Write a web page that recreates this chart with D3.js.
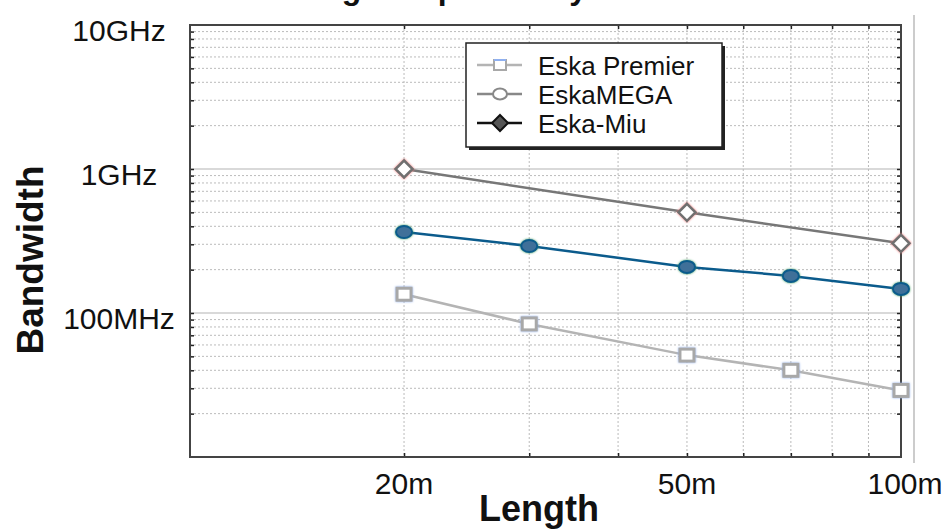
<!DOCTYPE html>
<html><head><meta charset="utf-8">
<script src="https://cdn.jsdelivr.net/npm/d3@7"></script>
<style>body{margin:0;background:#fff}svg{display:block}</style>
</head><body>
<svg id="c" width="948" height="529"></svg>
<script>
const lengths = [20, 30, 50, 70, 100];
const premier = [135, 84, 51, 40, 29];
const mega = [365, 292, 209, 181, 147];
const miuLengths = [20, 50, 100];
const miu = [1000, 500, 305];
const xTickVals = [20, 50, 100];
const xTickLabels = ["20m", "50m", "100m"];
const yTickVals = [10000, 1000, 100];
const yTickLabels = ["10GHz", "1GHz", "100MHz"];
const seriesNames = ["Eska Premier", "EskaMEGA", "Eska-Miu"];

const svg = d3.select("#c");
const L = 190, R = 901, T = 25, B = 457;
const x = d3.scaleLog().domain([10, 100]).range([L, R]);
const y = d3.scaleLog().domain([10, 10000]).range([B, T]);
const font = "'Liberation Sans', Arial, sans-serif";

const xMinor = d3.range(20, 100, 10);
const yMinor = [];
[10, 100, 1000].forEach(d => { for (let k = 2; k <= 9; k++) yMinor.push(d * k); });
const yMajor = [100, 1000];

const g = svg.append("g");
g.selectAll(".hm").data(yMinor).join("line")
  .attr("x1", L).attr("x2", R).attr("y1", d => y(d)).attr("y2", d => y(d))
  .attr("stroke", "#bbb").attr("stroke-width", 1).attr("stroke-dasharray", "2,2");
g.selectAll(".hM").data(yMajor).join("line")
  .attr("x1", L).attr("x2", R).attr("y1", d => y(d)).attr("y2", d => y(d))
  .attr("stroke", "#ccc").attr("stroke-width", 1.5);
g.selectAll(".vm").data(xMinor).join("line")
  .attr("y1", T).attr("y2", B).attr("x1", d => x(d)).attr("x2", d => x(d))
  .attr("stroke", "#bbb").attr("stroke-width", 1).attr("stroke-dasharray", "2,2");

const ax = (gen) => gen.tickSizeOuter(0).tickFormat("");
svg.append("g").attr("transform", `translate(0,${B})`)
  .call(ax(d3.axisTop(x).tickValues(xMinor).tickSizeInner(4)));
svg.append("g").attr("transform", `translate(0,${T})`)
  .call(ax(d3.axisBottom(x).tickValues(xMinor).tickSizeInner(4)));
svg.append("g").attr("transform", `translate(${L},0)`)
  .call(ax(d3.axisRight(y).tickValues(yMinor.concat(yMajor)).tickSizeInner(4)));
svg.append("g").attr("transform", `translate(${R},0)`)
  .call(ax(d3.axisLeft(y).tickValues(yMinor.concat(yMajor)).tickSizeInner(4)));
svg.selectAll(".domain").remove();
svg.selectAll(".tick line").attr("stroke", "#222").attr("stroke-width", 1.5);

svg.append("rect").attr("x", L).attr("y", T).attr("width", R - L).attr("height", B - T)
  .attr("fill", "none").attr("stroke", "#444").attr("stroke-width", 2);
svg.append("line").attr("x1", 914).attr("x2", 914).attr("y1", 15).attr("y2", 463)
  .attr("stroke", "#999").attr("stroke-width", 1);

svg.selectAll(".xl").data(xTickVals).join("text")
  .attr("x", (d) => x(d) + (d === 100 ? 4 : 0)).attr("y", 494)
  .attr("text-anchor", "middle").attr("font-family", font).attr("font-size", 30)
  .attr("fill", "#111").text((d, i) => xTickLabels[i]);
svg.selectAll(".yl").data(yTickVals).join("text")
  .attr("x", 119).attr("y", d => y(d) + 16)
  .attr("text-anchor", "middle").attr("font-family", font).attr("font-size", 30)
  .attr("fill", "#111").text((d, i) => yTickLabels[i]);

svg.append("text").attr("x", 539).attr("y", 521).attr("text-anchor", "middle")
  .attr("font-family", font).attr("font-weight", "bold").attr("font-size", 36)
  .attr("fill", "#111").text("Length");
svg.append("text").attr("transform", "translate(43,260) rotate(-90)").attr("text-anchor", "middle")
  .attr("font-family", font).attr("font-weight", "bold").attr("font-size", 37)
  .attr("fill", "#111").text("Bandwidth");
svg.append("text").attr("x", 540).attr("y", -1).attr("text-anchor", "middle")
  .attr("font-family", font).attr("font-weight", "bold").attr("font-size", 32)
  .attr("fill", "#111").text("Length dependency of bandwidth");

const line = d3.line().x(d => x(d[0])).y(d => y(d[1]));

const pData = lengths.map((l, i) => [l, premier[i]]);
svg.append("path").datum(pData).attr("d", line).attr("fill", "none")
  .attr("stroke", "#b4b4b4").attr("stroke-width", 2.5);
svg.selectAll(".pm").data(pData).join("rect")
  .attr("x", d => x(d[0]) - 7).attr("y", d => y(d[1]) - 6).attr("width", 14).attr("height", 12)
  .attr("fill", "#fff").attr("stroke", "#a8a8a8").attr("stroke-width", 3)
  .attr("style", "filter: drop-shadow(0 0 1px #8fb0f0)");

const mData = lengths.map((l, i) => [l, mega[i]]);
svg.append("path").datum(mData).attr("d", line).attr("fill", "none")
  .attr("stroke", "#0b5b8c").attr("stroke-width", 2.5);
svg.selectAll(".mm").data(mData).join("ellipse")
  .attr("cx", d => x(d[0])).attr("cy", d => y(d[1])).attr("rx", 8).attr("ry", 6)
  .attr("fill", "#3f7099").attr("stroke", "#0b5b8c").attr("stroke-width", 2)
  .attr("style", "filter: drop-shadow(0 0 1px #3a9a5a)");

const uData = miuLengths.map((l, i) => [l, miu[i]]);
svg.append("path").datum(uData).attr("d", line).attr("fill", "none")
  .attr("stroke", "#777").attr("stroke-width", 2.5);
svg.selectAll(".um").data(uData).join("path")
  .attr("transform", d => `translate(${x(d[0])},${y(d[1])})`)
  .attr("d", "M0,-8.5L8.5,0L0,8.5L-8.5,0Z")
  .attr("fill", "#fff").attr("stroke", "#707070").attr("stroke-width", 2.5)
  .attr("style", "filter: drop-shadow(0 0 1px #f07070)");

const lg = svg.append("g");
lg.append("rect").attr("x", 469).attr("y", 46).attr("width", 256).attr("height", 104).attr("fill", "#222");
lg.append("rect").attr("x", 466).attr("y", 43).attr("width", 256).attr("height", 104)
  .attr("fill", "#fff").attr("stroke", "#222").attr("stroke-width", 1.5);
const rowsY = [65, 94, 123];
const lineCols = ["#b4b4b4", "#888", "#111"];
seriesNames.forEach((n, i) => {
  const yy = rowsY[i];
  lg.append("line").attr("x1", 477).attr("x2", 522).attr("y1", yy).attr("y2", yy)
    .attr("stroke", lineCols[i]).attr("stroke-width", 2.5);
  if (i === 0) {
    lg.append("rect").attr("x", 494).attr("y", yy - 5).attr("width", 12).attr("height", 10)
      .attr("fill", "#fff").attr("stroke", "#a8a8a8").attr("stroke-width", 2);
    lg.append("line").attr("x1", 494).attr("x2", 506).attr("y1", yy - 5).attr("y2", yy - 5)
      .attr("stroke", "#8fb0f0").attr("stroke-width", 2);
  } else if (i === 1) {
    lg.append("ellipse").attr("cx", 500).attr("cy", yy).attr("rx", 7).attr("ry", 5.5)
      .attr("fill", "#fff").attr("stroke", "#888").attr("stroke-width", 2);
  } else {
    lg.append("path").attr("transform", `translate(500,${yy})`).attr("d", "M0,-8L8,0L0,8L-8,0Z")
      .attr("fill", "#555").attr("stroke", "#111").attr("stroke-width", 2);
  }
  lg.append("text").attr("x", 538).attr("y", yy + 10).attr("font-family", font)
    .attr("font-size", 26).attr("fill", "#111").text(n);
});
</script>
</body></html>
